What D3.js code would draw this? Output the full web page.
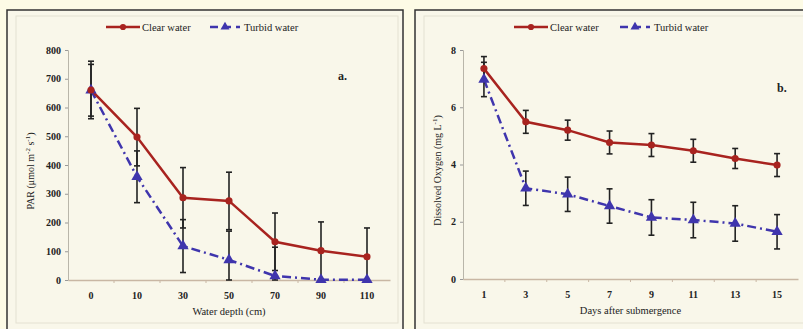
<!DOCTYPE html>
<html><head><meta charset="utf-8">
<script src="https://cdn.jsdelivr.net/npm/d3@7"></script>
<style>
html,body{margin:0;padding:0;background:#fdfbe6;}
svg{display:block;}
text{font-family:"Liberation Serif","Times New Roman",serif;fill:#222;}
</style></head><body>
<svg id="c" width="803" height="329"></svg>
<script>
// Panel a data
const depthCats = ["0","10","30","50","70","90","110"];
const parClear = [661, 497, 286, 275, 133, 102, 81];
const parClearErr = [100, 100, 105, 100, 100, 100, 100];
const parTurbid = [660, 359, 118, 70, 14, 1, 1];
const parTurbidErr = [90, 90, 92, 100, 100, 0, 0];
const parTicks = [0,100,200,300,400,500,600,700,800];

// Panel b data
const dayCats = ["1","3","5","7","9","11","13","15"];
const doClear = [7.35, 5.49, 5.2, 4.77, 4.68, 4.48, 4.21, 3.98];
const doClearErr = [0.42, 0.4, 0.35, 0.4, 0.4, 0.4, 0.35, 0.4];
const doTurbid = [6.97, 3.17, 2.96, 2.55, 2.15, 2.06, 1.94, 1.65];
const doTurbidErr = [0.6, 0.6, 0.6, 0.6, 0.62, 0.62, 0.62, 0.6];
const doTicks = [0,2,4,6,8];

const legendNames = ["Clear water","Turbid water"];
const RED = "#a8231f", BLUE = "#3f35ad";

const svg = d3.select("#c");

function panel(o){
  const g = svg.append("g");
  // frame
  g.append("rect").attr("x",o.fx).attr("y",10).attr("width",o.fw).attr("height",330)
    .attr("fill","#f9f7ea").attr("stroke","#333").attr("stroke-width",1.5);
  g.append("rect").attr("x",o.fx+9).attr("y",16).attr("width",o.fw-14).attr("height",307)
    .attr("fill","none").attr("stroke","#e4e1d2").attr("stroke-width",1);

  const x = d3.scaleBand().domain(o.cats).range([o.x0,o.x1]);
  const y = d3.scaleLinear().domain([0,o.ymax]).range([o.y0,o.y1]);
  const cx = c => x(c)+x.bandwidth()/2;

  // y axis
  const ya = g.append("g").attr("transform",`translate(${o.x0},0)`)
    .call(d3.axisLeft(y).tickValues(o.ticks).tickSize(3).tickPadding(4));
  ya.select(".domain").attr("stroke","#b9b6aa");
  ya.selectAll(".tick line").attr("stroke","#999");
  ya.selectAll("text").style("font-size","10px").style("font-weight","bold").attr("fill","#444");

  // x axis
  const xa = g.append("g").attr("transform",`translate(0,${o.y0})`)
    .call(d3.axisBottom(x).tickSize(0).tickPadding(12));
  xa.select(".domain").attr("stroke","#c9b7a4").attr("stroke-width",1.5);
  xa.selectAll("text").style("font-size","10px").style("font-weight","bold").attr("fill","#333");
  // minor ticks between categories
  g.selectAll(".bt").data(o.cats.slice(1)).enter().append("line")
    .attr("x1",d=>x(d)).attr("x2",d=>x(d)).attr("y1",o.y0).attr("y2",o.y0+3)
    .attr("stroke","#c9b7a4");

  // axis titles
  g.append("text").attr("x",(o.x0+o.x1)/2).attr("y",o.y0+35).attr("text-anchor","middle")
    .style("font-size","10.5px").text(o.xlabel);
  g.append("text").attr("transform",`translate(${o.ylx},${(o.y0+o.y1)/2+6}) rotate(-90)`)
    .attr("text-anchor","middle").style("font-size","10px").html(o.ylabel);

  // panel letter
  g.append("text").attr("x",o.lx).attr("y",o.ly).style("font-size","12px").style("font-weight","bold").text(o.letter);

  const series = [
    {v:o.clear, e:o.clearErr, color:RED, dash:null, sym:d3.symbolCircle, size:40},
    {v:o.turbid, e:o.turbidErr, color:BLUE, dash:"9,4,2,4", sym:d3.symbolTriangle, size:55}
  ];

  // lines
  series.slice().reverse().forEach(s=>{
    const line = d3.line().x((d,i)=>cx(o.cats[i])).y(d=>y(d));
    g.append("path").datum(s.v).attr("d",line).attr("fill","none")
      .attr("stroke",s.color).attr("stroke-width",2.5).attr("stroke-dasharray",s.dash);
  });
  // error bars
  series.forEach(s=>{
    s.v.forEach((v,i)=>{
      if(!s.e[i]) return;
      const xx = cx(o.cats[i]);
      const lo = y(Math.max(0,v-s.e[i])), hi = y(v+s.e[i]);
      g.append("line").attr("x1",xx).attr("x2",xx).attr("y1",lo).attr("y2",hi).attr("stroke","#222").attr("stroke-width",1.6);
      [lo,hi].forEach(yy=>g.append("line").attr("x1",xx-3).attr("x2",xx+3).attr("y1",yy).attr("y2",yy).attr("stroke","#222").attr("stroke-width",1.6));
    });
  });
  // markers
  series.slice().reverse().forEach(s=>{
    g.selectAll(null).data(s.v).enter().append("path")
      .attr("d",d3.symbol().type(s.sym).size(s.size))
      .attr("transform",(d,i)=>`translate(${cx(o.cats[i])},${y(d)})`)
      .attr("fill",s.color);
  });

  // legend
  const lg = g.append("g").attr("transform",`translate(${o.legx},27)`);
  lg.append("line").attr("x1",0).attr("x2",34).attr("y1",0).attr("y2",0).attr("stroke",RED).attr("stroke-width",2.5);
  lg.append("path").attr("d",d3.symbol().type(d3.symbolCircle).size(30)).attr("transform","translate(17,0)").attr("fill",RED);
  lg.append("text").attr("x",36).attr("y",3.5).style("font-size","10.5px").text(legendNames[0]);
  lg.append("line").attr("x1",o.leg2).attr("x2",o.leg2+30).attr("y1",0).attr("y2",0).attr("stroke",BLUE).attr("stroke-width",2.5).attr("stroke-dasharray","8,5");
  lg.append("path").attr("d",d3.symbol().type(d3.symbolTriangle).size(35)).attr("transform",`translate(${o.leg2+15},0)`).attr("fill",BLUE);
  lg.append("text").attr("x",o.leg2+34).attr("y",3.5).style("font-size","10.5px").text(legendNames[1]);
}

panel({fx:7, fw:396, cats:depthCats, x0:68, x1:390, y0:280, y1:50, ymax:800, ticks:parTicks,
  clear:parClear, clearErr:parClearErr, turbid:parTurbid, turbidErr:parTurbidErr,
  xlabel:"Water depth (cm)", ylabel:"PAR (μmol m<tspan dy='-4' font-size='7'>-2</tspan><tspan dy='4'> s</tspan><tspan dy='-4' font-size='7'>-1</tspan><tspan dy='4'>)</tspan>",
  ylx:34, letter:"a.", lx:338, ly:80, legx:106, leg2:104});

panel({fx:415, fw:395, cats:dayCats, x0:463, x1:798, y0:279, y1:50, ymax:8, ticks:doTicks,
  clear:doClear, clearErr:doClearErr, turbid:doTurbid, turbidErr:doTurbidErr,
  xlabel:"Days after submergence", ylabel:"Dissolved Oxygen (mg L<tspan dy='-4' font-size='7'>-1</tspan><tspan dy='4'>)</tspan>",
  ylx:441, letter:"b.", lx:777, ly:92, legx:514, leg2:106});
</script>
</body></html>
